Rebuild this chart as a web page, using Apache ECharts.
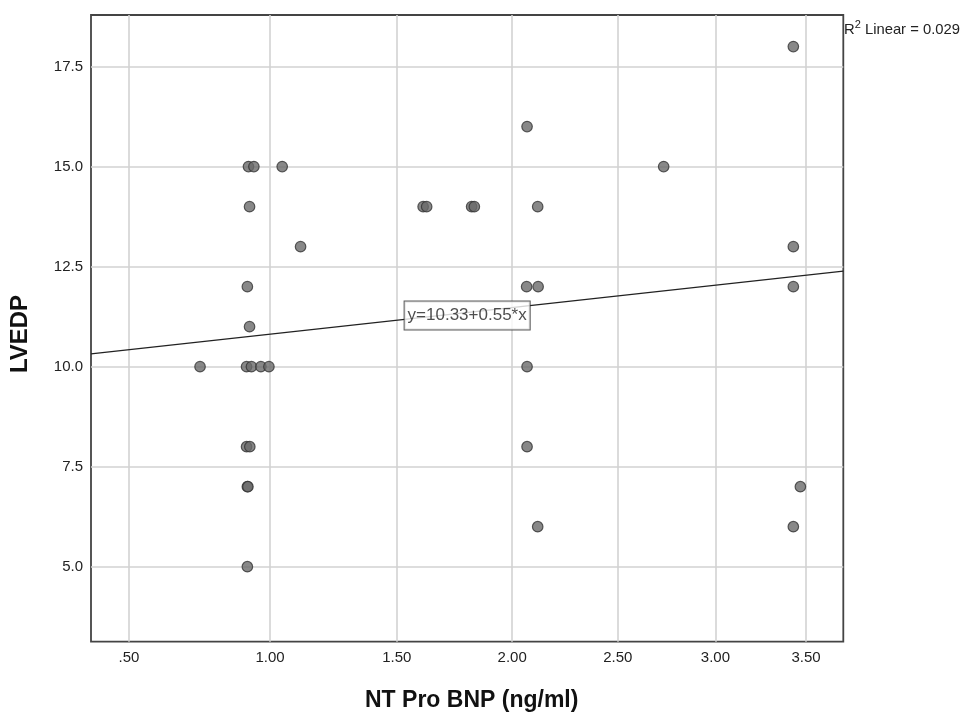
<!DOCTYPE html>
<html>
<head>
<meta charset="utf-8">
<script src="https://cdn.jsdelivr.net/npm/echarts@6/dist/echarts.min.js"></script>
<style>
html,body{margin:0;padding:0;background:#fff;}
#chart{width:965px;height:712px;}
</style>
</head>
<body>
<div id="chart"></div>
<script>
// ---- data ----
const ntProBnp = [
  0.92, 0.94, 1.046, 2.730,            // LVEDP 15
  0.924, 1.610, 1.625, 1.819, 1.831, 2.117, // 14
  2.068,                                // 16
  1.116, 3.428,                         // 13
  0.916, 2.066, 2.119, 3.428,           // 12
  0.924,                                // 11
  0.745, 0.913, 0.931, 0.966, 0.996, 2.068, // 10
  0.913, 0.925, 2.068,                  // 8
  0.916, 0.918, 3.468,                  // 7
  2.117, 3.428,                         // 6
  0.916,                                // 5
  3.428                                 // 18
];
const lvedp = [
  15, 15, 15, 15,
  14, 14, 14, 14, 14, 14,
  16,
  13, 13,
  12, 12, 12, 12,
  11,
  10, 10, 10, 10, 10, 10,
  8, 8, 8,
  7, 7, 7,
  6, 6,
  5,
  18
];
const xTicks = [0.5, 1.0, 1.5, 2.0, 2.5, 3.0, 3.5];
const yTicks = [5.0, 7.5, 10.0, 12.5, 15.0, 17.5];
const xRange = [0.3745, 3.7166];
const yRange = [3.125, 18.79];
const fitX = [0.3745, 3.7166];
const fitY = [10.32, 12.39];
const fitLabel = 'y=10.33+0.55*x';
const rSquared = '0.029';
const xTitle = 'NT Pro BNP (ng/ml)';
const yTitle = 'LVEDP';
const xShift = 3.75; // axis scale: ln(x + 3.75)

// ---- helpers ----
const T = v => Math.log(v + xShift);
const invT = t => Math.exp(t) - xShift;
const fmtX = v => {
  const r = Math.round(invT(v) * 100) / 100;
  const s = r.toFixed(2);
  return s.startsWith('0') ? s.slice(1) : s;
};
const FONT = "'Liberation Sans', Arial, sans-serif";

const scatterData = ntProBnp.map((x, i) => [T(x), lvedp[i]]);
const fitData = fitX.map((x, i) => [T(x), fitY[i]]);
const fitMid = [(fitData[0][0] + fitData[1][0]) / 2, (fitY[0] + fitY[1]) / 2];

const chart = echarts.init(document.getElementById('chart'), null, {renderer: 'canvas'});
chart.setOption({
  animation: false,
  backgroundColor: '#fff',
  textStyle: {fontFamily: FONT},
  grid: {
    left: 91, right: 121.7, top: 15, bottom: 70.3,
    show: true, borderColor: '#444', borderWidth: 1.8, backgroundColor: 'transparent'
  },
  xAxis: {
    type: 'value',
    min: T(xRange[0]), max: T(xRange[1]),
    axisLine: {show: false},
    axisTick: {show: false, customValues: xTicks.map(T)},
    axisLabel: {customValues: xTicks.map(T), formatter: fmtX, margin: 9,
      fontFamily: FONT, fontSize: 15, color: '#222'},
    splitLine: {show: true, lineStyle: {color: '#d2d2d2', width: 1.6}}
  },
  yAxis: {
    type: 'value',
    min: yRange[0], max: yRange[1],
    axisLine: {show: false},
    axisTick: {show: false, customValues: yTicks},
    axisLabel: {customValues: yTicks, formatter: v => v.toFixed(1), margin: 8,
      fontFamily: FONT, fontSize: 15, color: '#222'},
    splitLine: {show: true, lineStyle: {color: '#d2d2d2', width: 1.6}}
  },
  series: [
    {
      type: 'line',
      data: fitData,
      showSymbol: false,
      symbol: 'none',
      lineStyle: {color: '#222', width: 1.2},
      z: 3,
      silent: true
    },
    {
      type: 'scatter',
      data: scatterData,
      symbol: 'circle',
      symbolSize: 10.5,
      itemStyle: {color: '#6a6a6a', borderColor: '#333', borderWidth: 1.2},
      z: 4
    },
    {
      type: 'scatter',
      data: [fitMid],
      symbolSize: 0,
      z: 5,
      silent: true,
      label: {
        show: true, position: 'inside', formatter: fitLabel, offset: [0, 3],
        fontFamily: FONT, fontSize: 17, color: '#222', lineHeight: 19,
        backgroundColor: '#fff', borderColor: '#333', borderWidth: 1,
        padding: [5, 3, 4, 3]
      }
    }
  ],
  graphic: [
    {
      type: 'text', left: 844, top: 19,
      style: {
        text: '{r|R}{s|2}{r| Linear = ' + rSquared + '}',
        rich: {
          r: {fontFamily: FONT, fontSize: 14.8, fill: '#222', verticalAlign: 'bottom', lineHeight: 18},
          s: {fontFamily: FONT, fontSize: 11, fill: '#222', verticalAlign: 'top', lineHeight: 18, padding: [0, 0, 8, 0]}
        }
      }
    },
    {
      type: 'text', x: 471.7, y: 700.5,
      style: {
        text: xTitle, fontFamily: FONT, fontSize: 23, fontWeight: 'bold', fill: '#111',
        align: 'center', verticalAlign: 'middle'
      }
    },
    {
      type: 'text', x: 20.5, y: 334, rotation: Math.PI / 2,
      style: {
        text: yTitle, fontFamily: FONT, fontSize: 24, fontWeight: 'bold', fill: '#111',
        align: 'center', verticalAlign: 'middle'
      }
    }
  ]
});
</script>
</body>
</html>
